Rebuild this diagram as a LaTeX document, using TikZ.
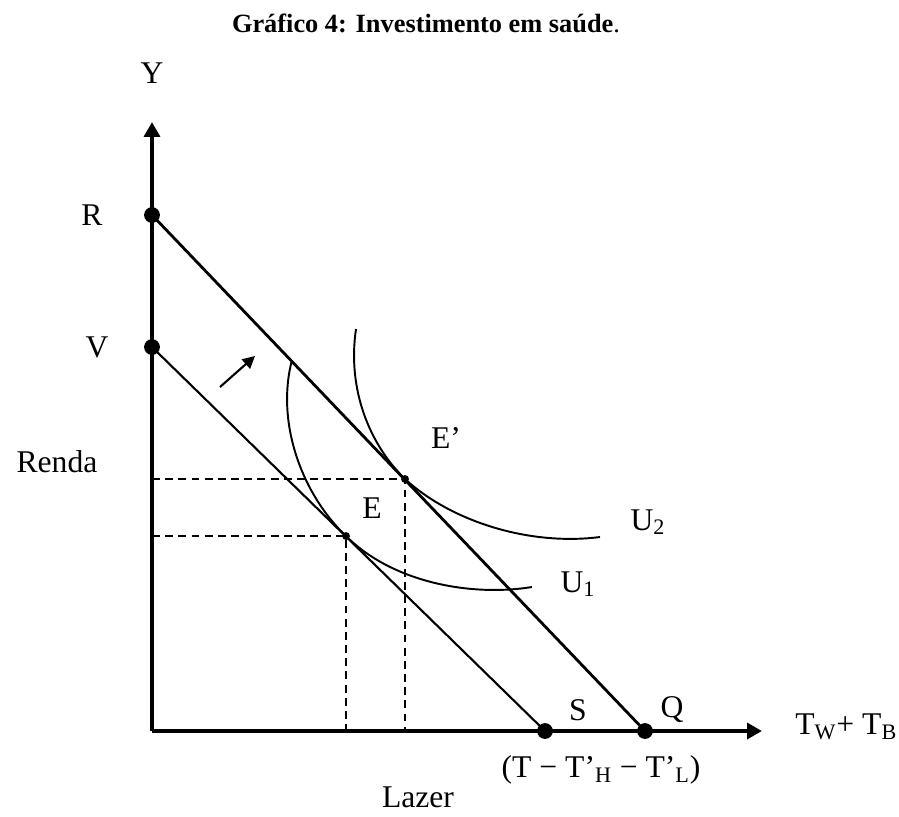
\documentclass[tikz,border=0pt]{standalone}
\usepackage{fontspec}
\setmainfont{Liberation Serif}
\usetikzlibrary{arrows.meta}
\begin{document}
\begin{tikzpicture}[x=0.02cm, y=-0.02cm, >={Triangle[length=8.5pt,width=9pt]},
		lbl/.style={font=\fontsize{18}{20}\selectfont, inner sep=0pt},
		bigdot/.style={circle, fill, inner sep=0pt, minimum size=9pt},
		smalldot/.style={circle, fill, inner sep=0pt, minimum size=4.5pt},
		dsh/.style={line width=1.1pt, dash pattern=on 4.5pt off 3pt}]
	\useasboundingbox (0,0) rectangle (899,816);
	\node[font=\bfseries\fontsize{15}{18}\selectfont] (title) at (426,23) {Gráfico 4: Investimento em saúde\textmd{.}};
	% pontos
	\coordinate (O) at (152,731); \coordinate (R) at (152,215); \coordinate (V) at (152,347);
	\coordinate (S) at (545,731); \coordinate (Q) at (645,731);
	\coordinate (E) at (346,536); \coordinate (Ep) at (405,479);
	% eixos
	\draw[line width=2.3pt, ->] (O) -- (152,122) coordinate (ytip);
	\draw[line width=2.3pt, ->] (O) -- (762,731) coordinate (xtip);
	% retas orcamentarias
	\draw[line width=1.6pt] (R) -- (Q);
	\draw[line width=1.2pt] (V) -- (S);
	\draw[dsh] (O |- Ep) -- (Ep) -- (Ep |- O);
	\draw[dsh] (O |- E) -- (E) -- (E |- O);
	% curvas de indiferenca
	\draw[line width=1.1pt] (292,360) .. controls (276,420) and (300,492) .. (E) .. controls (392,582) and (470,597) .. (532,587) coordinate (U1end);
	\draw[line width=1.1pt] (356,329) .. controls (347,390) and (370,445) .. (Ep) .. controls (452,522) and (530,546) .. (600,537) coordinate (U2end);
	\draw[line width=1.2pt, ->, >={Triangle[length=7pt,width=7pt]}] (220,387) coordinate (a0) -- (255,356) coordinate (a1);
	\node[bigdot] (Rd) at (R) {}; \node[bigdot] (Vd) at (V) {};
	\node[bigdot] (Sd) at (S) {}; \node[bigdot] (Qd) at (Q) {};
	\node[smalldot] (Ed) at (E) {}; \node[smalldot] (Epd) at (Ep) {};
	% rotulos
	\node[lbl] (Ylbl) at (152,73) {Y};
	\node[lbl] (Rlbl) at (92,215) {R}; \node[lbl] (Vlbl) at (97,347) {V};
	\node[lbl] (renda) at (57,462) {Renda};
	\node[lbl] (Eplbl) at (446,438) {E’}; \node[lbl] (Elbl) at (372,508) {E};
	\node[lbl] (U2lbl) at (648,522) {U\textsubscript{2}}; \node[lbl] (U1lbl) at (578,584) {U\textsubscript{1}};
	\node[lbl] (Slbl) at (578,710) {S}; \node[lbl] (Qlbl) at (672,710) {Q};
	\node[lbl, anchor=west] (xlbl) at (795,727) {T\textsubscript{W}+ T\textsubscript{B}};
	\node[lbl] (tlbl) at (601,770) {(T − T’\textsubscript{H} − T’\textsubscript{L})};
	\node[lbl, anchor=base] (lazer) at (418,807) {Lazer};
\end{tikzpicture}
\end{document}
